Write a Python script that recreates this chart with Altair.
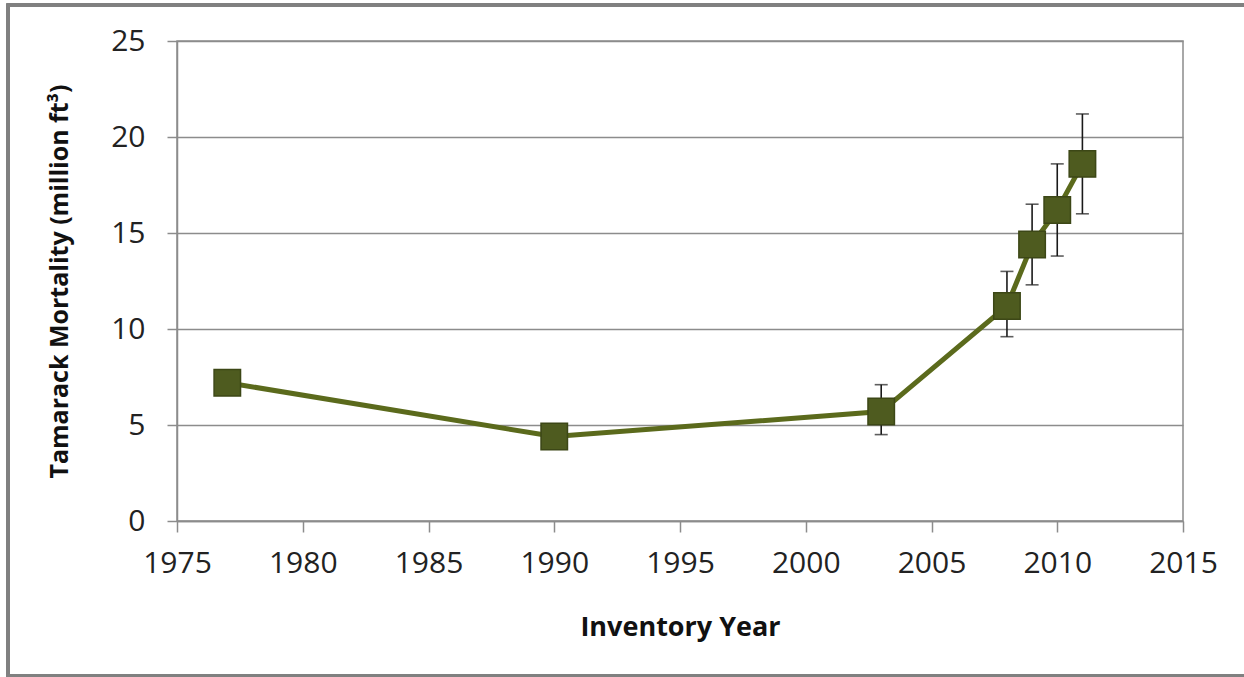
import altair as alt
import pandas as pd

# Tamarack mortality by inventory year, with standard-error bars
years = [1977, 1990, 2003, 2008, 2009, 2010, 2011]
mortality = [7.2, 4.4, 5.7, 11.2, 14.4, 16.2, 18.6]
err_years = [2003, 2008, 2009, 2010, 2011]
err_low = [4.5, 9.6, 12.3, 13.8, 16.0]
err_high = [7.1, 13.0, 16.5, 18.6, 21.2]

x_ticks = [1975, 1980, 1985, 1990, 1995, 2000, 2005, 2010, 2015]
y_ticks = [0, 5, 10, 15, 20, 25]

FONT = "Open Sans"
LINE_COLOR = "#5b6a1c"
MARKER_FILL = "#4e5b1f"
MARKER_STROKE = "#3c4716"

points = pd.DataFrame({"year": years, "mortality": mortality})
errs = pd.DataFrame({"year": err_years, "low": err_low, "high": err_high})

x_scale = alt.Scale(domain=[1975, 2015], nice=False, zero=False)
y_scale = alt.Scale(domain=[0, 25], nice=False)

x_axis = alt.Axis(
    title="Inventory Year",
    values=x_ticks,
    format="d",
    grid=False,
    tickSize=11,
    labelPadding=16,
    labelFlush=False,
    titlePadding=36,
    titleFontSize=27,
)
y_axis = alt.Axis(
    title="Tamarack Mortality (million ft³)",
    values=y_ticks,
    grid=True,
    tickSize=10,
    labelPadding=22,
    labelFlush=False,
    titlePadding=38,
    titleFontSize=25,
)

base = alt.Chart(points)

line = base.mark_line(color=LINE_COLOR, strokeWidth=5).encode(
    x=alt.X("year:Q", scale=x_scale, axis=x_axis),
    y=alt.Y("mortality:Q", scale=y_scale, axis=y_axis),
)

markers = base.mark_point(
    shape="square", size=700, filled=True, opacity=1,
    fill=MARKER_FILL, stroke=MARKER_STROKE, strokeWidth=1.5,
).encode(x="year:Q", y="mortality:Q")

err_rules = alt.Chart(errs).mark_rule(color="#1a1a1a", strokeWidth=1.6).encode(
    x="year:Q", y="low:Q", y2="high:Q"
)
err_caps_low = alt.Chart(errs).mark_tick(
    color="#1a1a1a", orient="horizontal", size=13, thickness=1.6
).encode(x="year:Q", y="low:Q")
err_caps_high = alt.Chart(errs).mark_tick(
    color="#1a1a1a", orient="horizontal", size=13, thickness=1.6
).encode(x="year:Q", y="high:Q")

# outer frame around the whole figure
frame = alt.Chart(points).mark_rect(
    fill=None, stroke="#808080", strokeWidth=3
).encode(
    x=alt.value(-169), x2=alt.value(1075),
    y=alt.value(-36), y2=alt.value(635),
)

chart = (
    alt.layer(frame, err_rules, err_caps_low, err_caps_high, line, markers)
    .properties(
        width=1006,
        height=480,
        autosize=alt.AutoSizeParams(type="none"),
        padding={"left": 177, "top": 41, "right": 61, "bottom": 156},
        background="white",
    )
    .configure_view(stroke="#8c8c8c", strokeWidth=1.5)
    .configure_axis(
        labelFont=FONT,
        labelFontSize=30,
        labelColor="#222222",
        titleFont=FONT,
        titleFontWeight="bold",
        titleColor="#111111",
        domainColor="#8c8c8c",
        domainWidth=1.5,
        tickColor="#8c8c8c",
        tickWidth=1.5,
        gridColor="#8c8c8c",
        gridWidth=1.3,
        gridOpacity=1,
    )
)

chart.save("out.html", embed_options={"renderer": "svg", "actions": False})
